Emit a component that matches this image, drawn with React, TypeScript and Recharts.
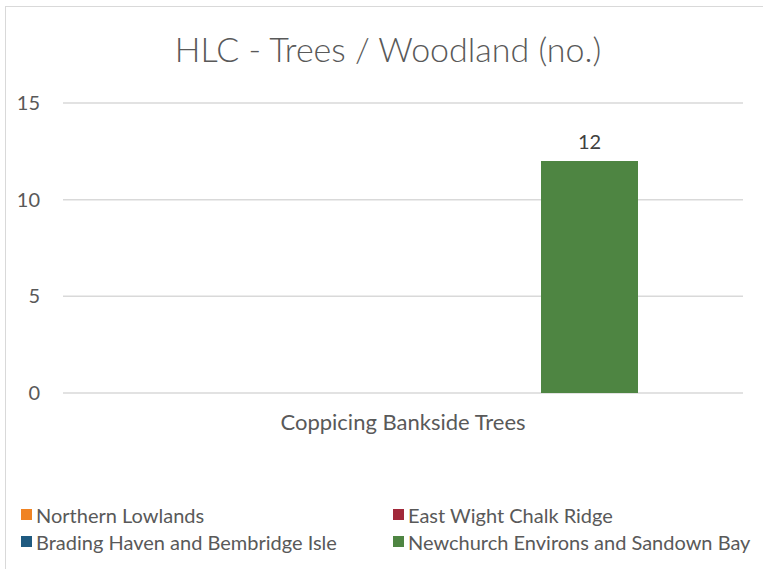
import { BarChart, Bar, XAxis, YAxis, CartesianGrid, LabelList } from 'recharts';

const categories = ['Coppicing Bankside Trees'];
const seriesNames = [
  'Northern Lowlands',
  'East Wight Chalk Ridge',
  'Brading Haven and Bembridge Isle',
  'Newchurch Environs and Sandown Bay',
];
const seriesColors = ['#F08322', '#A1283A', '#1F5A80', '#4E8542'];
const seriesValues = [[0], [0], [0], [12]];
const yTicks = [0, 5, 10, 15];

const data = categories.map((name, i) => {
  const row: any = { name };
  seriesNames.forEach((s, j) => { row[s] = seriesValues[j][i]; });
  return row;
});

const font = 'Lato, "Open Sans", sans-serif';
const textColor = '#595959';

export default function App() {
  return (
    <div style={{ position: 'fixed', left: 0, top: 0, width: 763, height: 569, overflow: 'hidden', background: '#fff', fontFamily: font }}>
      <div style={{ position: 'absolute', left: 5, top: 6, width: 780, height: 600, border: '1px solid #D9D9D9', boxSizing: 'border-box' }} />
      <div style={{ position: 'absolute', left: 5, top: 28, width: 766, textAlign: 'center', fontSize: 34, fontWeight: 300, color: textColor }}>
        HLC - Trees / Woodland (no.)
      </div>
      <div style={{ position: 'absolute', left: 5, top: 6 }}>
        <BarChart width={758} height={563} data={data} margin={{ top: 97, right: 20, bottom: 0, left: 0 }} barCategoryGap={106} barGap={27}>
          <CartesianGrid horizontal vertical={false} stroke="#D9D9D9" strokeWidth={1.5} />
          <XAxis dataKey="name" axisLine={false} tickLine={false} tickSize={0} tickMargin={21} height={176}
            tick={{ fill: textColor, fontSize: 22, fontFamily: font }} />
          <YAxis domain={[0, 15]} ticks={yTicks} axisLine={false} tickLine={false} tickSize={0} tickMargin={23} width={58}
            tick={{ fill: textColor, fontSize: 20, fontFamily: font }} />
          {seriesNames.map((s, j) => (
            <Bar key={s} dataKey={s} fill={seriesColors[j]} isAnimationActive={false}>
              {j === 3 && (
                <LabelList dataKey={s} position="top" offset={12} fill="#404040" fontSize={20} fontFamily={font} />
              )}
            </Bar>
          ))}
        </BarChart>
      </div>
      <div style={{ position: 'absolute', left: 21, top: 503, display: 'grid', gridTemplateColumns: '372px auto', rowGap: 4, fontSize: 20, color: textColor }}>
        {seriesNames.map((s, j) => (
          <div key={s} style={{ display: 'flex', alignItems: 'center', height: 23 }}>
            <span style={{ width: 11, height: 11, background: seriesColors[j], marginRight: 4, display: 'inline-block' }} />
            {s}
          </div>
        ))}
      </div>
    </div>
  );
}
